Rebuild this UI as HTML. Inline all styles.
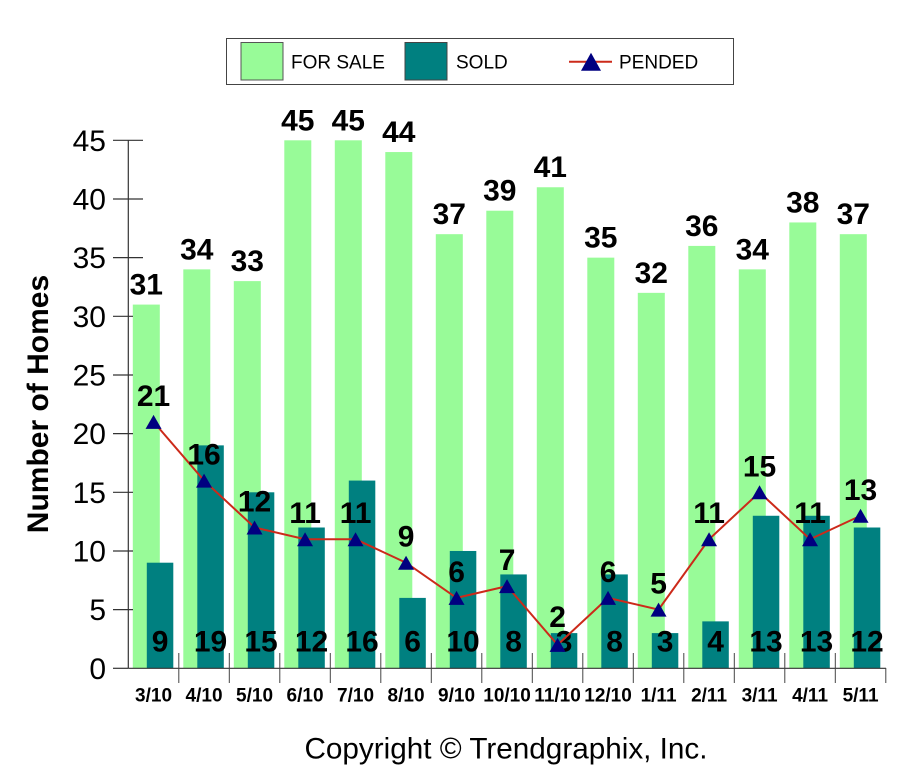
<!DOCTYPE html>
<html><head><meta charset="utf-8"><style>
html,body{margin:0;padding:0;background:#fff;}
svg{display:block;}
text{font-family:"Liberation Sans",Arial,sans-serif;}
.v{font-size:30px;font-weight:bold;text-anchor:middle;fill:#000;}
.yt{font-size:30px;text-anchor:end;fill:#000;}
.xt{font-size:19px;font-weight:bold;text-anchor:middle;fill:#000;}
.lg{font-size:19px;fill:#000;}
</style></head><body>
<svg width="922" height="768" viewBox="0 0 922 768" xmlns="http://www.w3.org/2000/svg">
<rect width="922" height="768" fill="#fff"/>
<!-- legend -->
<rect x="226.5" y="38.5" width="507" height="46" fill="#fff" stroke="#444" stroke-width="1"/>
<rect x="241" y="42.5" width="42" height="37.5" fill="#98fb98" stroke="#555" stroke-width="1"/>
<text class="lg" x="291" y="68.5">FOR SALE</text>
<rect x="405" y="42.5" width="42" height="37.5" fill="#008080" stroke="#444" stroke-width="1"/>
<text class="lg" x="456" y="68.5">SOLD</text>
<line x1="569" y1="61.7" x2="612" y2="61.7" stroke="#cc2a1a" stroke-width="2"/>
<polygon points="581,70.7 601,70.7 591,52.7" fill="#000080"/>
<text class="lg" x="619" y="68.5">PENDED</text>

<!-- for sale bars -->
<g fill="#98fb98">
<rect x="132.8" y="304.58" width="27" height="363.72"/>
<rect x="183.3" y="269.38" width="27" height="398.92"/>
<rect x="233.8" y="281.11" width="27" height="387.19"/>
<rect x="284.3" y="140.31" width="27" height="527.99"/>
<rect x="334.8" y="140.31" width="27" height="527.99"/>
<rect x="385.3" y="152.05" width="27" height="516.25"/>
<rect x="435.8" y="234.18" width="27" height="434.12"/>
<rect x="486.3" y="210.71" width="27" height="457.59"/>
<rect x="536.8" y="187.25" width="27" height="481.05"/>
<rect x="587.3" y="257.65" width="27" height="410.65"/>
<rect x="637.8" y="292.85" width="27" height="375.45"/>
<rect x="688.3" y="245.91" width="27" height="422.39"/>
<rect x="738.8" y="269.38" width="27" height="398.92"/>
<rect x="789.3" y="222.45" width="27" height="445.85"/>
<rect x="839.8" y="234.18" width="27" height="434.12"/>
</g>
<!-- sold bars -->
<g fill="#008080">
<rect x="146.8" y="562.7" width="26.5" height="105.6"/>
<rect x="197.3" y="445.37" width="26.5" height="222.93"/>
<rect x="247.8" y="492.3" width="26.5" height="176"/>
<rect x="298.3" y="527.5" width="26.5" height="140.8"/>
<rect x="348.8" y="480.57" width="26.5" height="187.73"/>
<rect x="399.3" y="597.9" width="26.5" height="70.4"/>
<rect x="449.8" y="550.97" width="26.5" height="117.33"/>
<rect x="500.3" y="574.43" width="26.5" height="93.87"/>
<rect x="550.8" y="633.1" width="26.5" height="35.2"/>
<rect x="601.3" y="574.43" width="26.5" height="93.87"/>
<rect x="651.8" y="633.1" width="26.5" height="35.2"/>
<rect x="702.3" y="621.37" width="26.5" height="46.93"/>
<rect x="752.8" y="515.77" width="26.5" height="152.53"/>
<rect x="803.3" y="515.77" width="26.5" height="152.53"/>
<rect x="853.8" y="527.5" width="26.5" height="140.8"/>
</g>

<!-- axes -->
<g stroke="#333" stroke-width="1.2" fill="none">
<line x1="128.3" y1="140" x2="128.3" y2="668.3"/>
<line x1="128.3" y1="668.3" x2="886" y2="668.3"/>
<line x1="113" y1="140.31" x2="143" y2="140.31"/>
<line x1="113" y1="198.98" x2="143" y2="198.98"/>
<line x1="113" y1="257.65" x2="143" y2="257.65"/>
<line x1="113" y1="316.31" x2="133" y2="316.31"/>
<line x1="113" y1="374.98" x2="133" y2="374.98"/>
<line x1="113" y1="433.65" x2="133" y2="433.65"/>
<line x1="113" y1="492.31" x2="133" y2="492.31"/>
<line x1="113" y1="550.97" x2="133" y2="550.97"/>
<line x1="113" y1="609.63" x2="133" y2="609.63"/>
<line x1="113" y1="668.3" x2="128.3" y2="668.3"/>
</g>
<g stroke="#444" stroke-width="1" fill="none">
<line x1="178.8" y1="653" x2="178.8" y2="683"/>
<line x1="229.3" y1="653" x2="229.3" y2="683"/>
<line x1="279.8" y1="653" x2="279.8" y2="683"/>
<line x1="330.3" y1="653" x2="330.3" y2="683"/>
<line x1="380.8" y1="653" x2="380.8" y2="683"/>
<line x1="431.3" y1="653" x2="431.3" y2="683"/>
<line x1="481.8" y1="653" x2="481.8" y2="683"/>
<line x1="532.3" y1="653" x2="532.3" y2="683"/>
<line x1="582.8" y1="653" x2="582.8" y2="683"/>
<line x1="633.3" y1="653" x2="633.3" y2="683"/>
<line x1="683.8" y1="653" x2="683.8" y2="683"/>
<line x1="734.3" y1="653" x2="734.3" y2="683"/>
<line x1="784.8" y1="653" x2="784.8" y2="683"/>
<line x1="835.3" y1="653" x2="835.3" y2="683"/>
<line x1="885.8" y1="668" x2="885.8" y2="683"/>
</g>

<!-- y tick labels -->
<text class="yt" x="106" y="151">45</text>
<text class="yt" x="106" y="209.5">40</text>
<text class="yt" x="106" y="268.2">35</text>
<text class="yt" x="106" y="326.8">30</text>
<text class="yt" x="106" y="385.5">25</text>
<text class="yt" x="106" y="444.2">20</text>
<text class="yt" x="106" y="502.8">15</text>
<text class="yt" x="106" y="561.5">10</text>
<text class="yt" x="106" y="620.2">5</text>
<text class="yt" x="106" y="678.8">0</text>

<!-- y title -->
<text x="0" y="0" transform="translate(48,404) rotate(-90)" style="font-size:30px;font-weight:bold;text-anchor:middle;fill:#000;">Number of Homes</text>

<!-- x labels -->
<text class="xt" x="153.55" y="701.5">3/10</text>
<text class="xt" x="204.05" y="701.5">4/10</text>
<text class="xt" x="254.55" y="701.5">5/10</text>
<text class="xt" x="305.05" y="701.5">6/10</text>
<text class="xt" x="355.55" y="701.5">7/10</text>
<text class="xt" x="406.05" y="701.5">8/10</text>
<text class="xt" x="456.55" y="701.5">9/10</text>
<text class="xt" x="507.05" y="701.5">10/10</text>
<text class="xt" x="557.55" y="701.5">11/10</text>
<text class="xt" x="608.05" y="701.5">12/10</text>
<text class="xt" x="658.55" y="701.5">1/11</text>
<text class="xt" x="709.05" y="701.5">2/11</text>
<text class="xt" x="759.55" y="701.5">3/11</text>
<text class="xt" x="810.05" y="701.5">4/11</text>
<text class="xt" x="860.55" y="701.5">5/11</text>

<!-- for sale labels -->
<text class="v" x="146.3" y="294.6">31</text>
<text class="v" x="196.8" y="259.4">34</text>
<text class="v" x="247.3" y="271.1">33</text>
<text class="v" x="297.8" y="130.3">45</text>
<text class="v" x="348.3" y="130.3">45</text>
<text class="v" x="398.8" y="142">44</text>
<text class="v" x="449.3" y="224.2">37</text>
<text class="v" x="499.8" y="200.7">39</text>
<text class="v" x="550.3" y="177.2">41</text>
<text class="v" x="600.8" y="247.6">35</text>
<text class="v" x="651.3" y="282.8">32</text>
<text class="v" x="701.8" y="235.9">36</text>
<text class="v" x="752.3" y="259.4">34</text>
<text class="v" x="802.8" y="212.4">38</text>
<text class="v" x="853.3" y="224.2">37</text>

<!-- sold labels -->
<text class="v" x="160.05" y="651.7">9</text>
<text class="v" x="210.55" y="651.7">19</text>
<text class="v" x="261.05" y="651.7">15</text>
<text class="v" x="311.55" y="651.7">12</text>
<text class="v" x="362.05" y="651.7">16</text>
<text class="v" x="412.55" y="651.7">6</text>
<text class="v" x="463.05" y="651.7">10</text>
<text class="v" x="513.55" y="651.7">8</text>
<text class="v" x="564.05" y="651.7">3</text>
<text class="v" x="614.55" y="651.7">8</text>
<text class="v" x="665.05" y="651.7">3</text>
<text class="v" x="715.55" y="651.7">4</text>
<text class="v" x="766.05" y="651.7">13</text>
<text class="v" x="816.55" y="651.7">13</text>
<text class="v" x="867.05" y="651.7">12</text>

<!-- pended line -->
<polyline fill="none" stroke="#cc2a1a" stroke-width="2" points="153.55,421.91 204.05,480.57 254.55,527.5 305.05,539.24 355.55,539.24 406.05,562.7 456.55,597.9 507.05,586.17 557.55,644.83 608.05,597.9 658.55,609.63 709.05,539.24 759.55,492.3 810.05,539.24 860.55,515.77"/>
<g fill="#000080">
<polygon points="145.55,428.91 161.55,428.91 153.55,414.91"/>
<polygon points="196.05,487.57 212.05,487.57 204.05,473.57"/>
<polygon points="246.55,534.5 262.55,534.5 254.55,520.5"/>
<polygon points="297.05,546.24 313.05,546.24 305.05,532.24"/>
<polygon points="347.55,546.24 363.55,546.24 355.55,532.24"/>
<polygon points="398.05,569.7 414.05,569.7 406.05,555.7"/>
<polygon points="448.55,604.9 464.55,604.9 456.55,590.9"/>
<polygon points="499.05,593.17 515.05,593.17 507.05,579.17"/>
<polygon points="549.55,651.83 565.55,651.83 557.55,637.83"/>
<polygon points="600.05,604.9 616.05,604.9 608.05,590.9"/>
<polygon points="650.55,616.63 666.55,616.63 658.55,602.63"/>
<polygon points="701.05,546.24 717.05,546.24 709.05,532.24"/>
<polygon points="751.55,499.3 767.55,499.3 759.55,485.3"/>
<polygon points="802.05,546.24 818.05,546.24 810.05,532.24"/>
<polygon points="852.55,522.77 868.55,522.77 860.55,508.77"/>
</g>

<!-- pended labels -->
<text class="v" x="153.55" y="405.9">21</text>
<text class="v" x="204.05" y="464.6">16</text>
<text class="v" x="254.55" y="511.5">12</text>
<text class="v" x="305.05" y="523.2">11</text>
<text class="v" x="355.55" y="523.2">11</text>
<text class="v" x="406.05" y="546.7">9</text>
<text class="v" x="456.55" y="581.9">6</text>
<text class="v" x="507.05" y="570.2">7</text>
<text class="v" x="557.55" y="627">2</text>
<text class="v" x="608.05" y="581.9">6</text>
<text class="v" x="658.55" y="593.6">5</text>
<text class="v" x="709.05" y="523.2">11</text>
<text class="v" x="759.55" y="476.3">15</text>
<text class="v" x="810.05" y="523.2">11</text>
<text class="v" x="860.55" y="499.8">13</text>

<!-- copyright -->
<text x="506" y="758.3" style="font-size:29.7px;text-anchor:middle;fill:#000;">Copyright © Trendgraphix, Inc.</text>
</svg>
</body></html>
